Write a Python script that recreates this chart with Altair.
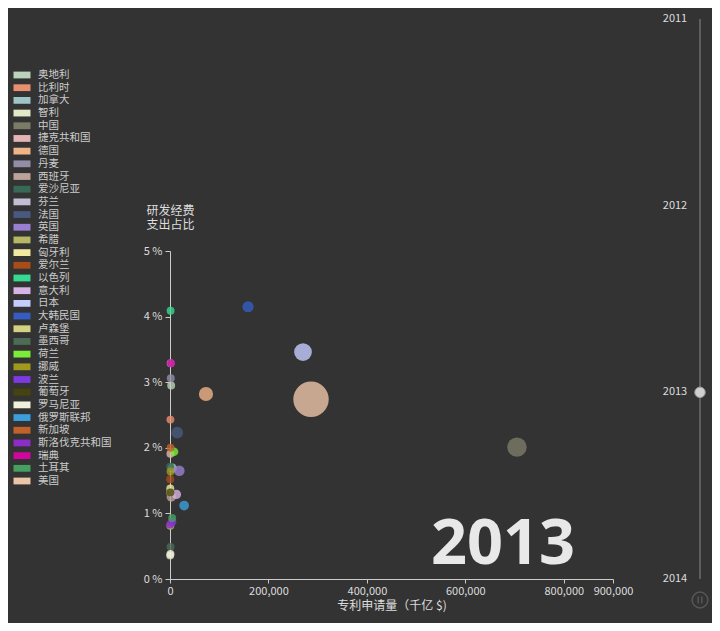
import altair as alt
import pandas as pd

# ---------------- data ----------------
countries = ["奥地利", "比利时", "加拿大", "智利", "中国", "捷克共和国", "德国", "丹麦", "西班牙",
             "爱沙尼亚", "芬兰", "法国", "英国", "希腊", "匈牙利", "爱尔兰", "以色列", "意大利",
             "日本", "大韩民国", "卢森堡", "墨西哥", "荷兰", "挪威", "波兰", "葡萄牙", "罗马尼亚",
             "俄罗斯联邦", "新加坡", "斯洛伐克共和国", "瑞典", "土耳其", "美国"]
colors = ["#bcd3bb", "#e88f70", "#9dc5c8", "#e1e8c8", "#7b7c68", "#e5b5b5", "#f0b489", "#928ea8",
          "#bda29a", "#376956", "#c3bed4", "#495a80", "#9a7fd1", "#b6b665", "#f0eaa1", "#a84c18",
          "#37d88f", "#d8b3e6", "#c5ccfe", "#355cc1", "#d4d181", "#4d6c56", "#7cec38", "#a0991e",
          "#7c3ae0", "#46440e", "#f0f0dc", "#3b9fdb", "#c0622a", "#8e2cc7", "#d0069f", "#46a05f",
          "#ecc4a8"]
# patent applications (2013)
patents = [2400, 800, 4500, 340, 704900, 900, 73100, 1600, 2600,
           60, 1400, 14700, 18900, 700, 600, 400, 1200, 13000,
           270200, 158500, 150, 1200, 8100, 1100, 4200, 700, 1000,
           28700, 1100, 200, 2200, 4500, 286500]
# R&D expenditure share of GDP (%)
rd_share = [2.95, 2.43, 1.69, 0.36, 2.01, 1.91, 2.82, 3.06, 1.25,
            1.71, 3.29, 2.23, 1.65, 0.81, 1.38, 1.52, 4.09, 1.29,
            3.46, 4.15, 1.32, 0.49, 1.94, 1.64, 0.87, 1.32, 0.38,
            1.12, 2.00, 0.83, 3.29, 0.93, 2.74]
# bubble scale value (relative)
scale_val = [5, 5, 7, 5, 30, 5, 16, 5, 7,
             5, 5, 11, 9, 5, 5, 5, 5, 7,
             25, 10, 5, 5, 6, 5, 6, 5, 5,
             7.5, 5, 5, 5, 5, 100]
years = [2011, 2012, 2013, 2014]
current_year = 2013

df = pd.DataFrame({"国家": countries, "专利申请量": patents, "研发占比": rd_share,
                   "规模": scale_val, "序号": list(range(len(countries)))})
df_years = pd.DataFrame({"年份": years})
df_cur = pd.DataFrame({"年份": [current_year], "标签": [str(current_year)]})

FONT = "Noto Sans CJK SC"
BG = "#333333"
color_scale = alt.Scale(domain=countries, range=colors)

# ---------------- main scatter ----------------
points = alt.Chart(df).mark_circle(opacity=0.8).encode(
    x=alt.X("专利申请量:Q",
            scale=alt.Scale(domain=[0, 900000], nice=False),
            axis=alt.Axis(values=[0, 200000, 400000, 600000, 800000, 900000], format=",.0f",
                          title="专利申请量（千亿 $)", titleY=21, titleBaseline="top",
                          tickSize=4, labelPadding=2, labelOverlap=False, labelFlush=False)),
    y=alt.Y("研发占比:Q",
            scale=alt.Scale(domain=[0, 5], nice=False),
            axis=alt.Axis(values=[0, 1, 2, 3, 4, 5], labelExpr="datum.value + ' %'",
                          title=["研发经费", "支出占比"], titleAngle=0, titleAlign="left",
                          titleBaseline="top", titleX=-24, titleY=-46,
                          tickSize=5, labelPadding=3, labelOverlap=False, labelFlush=False)),
    size=alt.Size("规模:Q", scale=alt.Scale(domain=[0, 100], range=[0, 1257]), legend=None),
    color=alt.Color("国家:N", scale=color_scale, legend=None),
    order=alt.Order("序号:Q"),
)

# ---------------- legend (left) ----------------
leg_y = alt.Y("序号:Q", scale=alt.Scale(domain=[0, 32], range=[-176, 230]), axis=None)
swatch = alt.Chart(df).mark_point(
    shape="M-1,-0.4H1V0.4H-1Z", filled=True, opacity=1, size=289
).encode(
    x=alt.value(-148), y=leg_y,
    color=alt.Color("国家:N", scale=color_scale, legend=None),
)
leg_text = alt.Chart(df).mark_text(
    align="left", baseline="middle", font=FONT, fontSize=10.5, color="#cccccc"
).encode(x=alt.value(-132), y=leg_y, text="国家:N")

# ---------------- timeline (right) ----------------
tl_scale = alt.Scale(domain=[2011, 2014], range=[-232, 328])
tl_line = alt.Chart(df_years).mark_rule(color="#5e5e5e", strokeWidth=2).encode(
    x=alt.value(530),
    y=alt.Y("min(年份):Q", scale=tl_scale, axis=None),
    y2="max(年份):Q",
)
tl_labels = alt.Chart(df_years).mark_text(
    align="center", baseline="middle", font=FONT, fontSize=11, color="#dddddd"
).encode(x=alt.value(505), y=alt.Y("年份:Q", scale=tl_scale, axis=None), text="年份:N")
tl_marker = alt.Chart(df_cur).mark_point(
    filled=True, color="#cfcfcf", size=110, opacity=1, stroke="#9a9a9a", strokeWidth=1
).encode(x=alt.value(530), y=alt.Y("年份:Q", scale=tl_scale, axis=None))
pause_ring = alt.Chart(df_cur).mark_point(
    shape="circle", filled=False, color="#666666", size=250, strokeWidth=1.5
).encode(x=alt.value(530), y=alt.value(349))
pause_bars = alt.Chart(df_cur).mark_point(
    shape="M-0.25,-0.5V0.5M0.25,-0.5V0.5", filled=False, color="#666666", size=200, strokeWidth=1.5
).encode(x=alt.value(530), y=alt.value(349))

# ---------------- big year ----------------
big_year = alt.Chart(df_cur).mark_text(
    align="right", baseline="alphabetic", font="Open Sans", fontSize=63,
    fontWeight="bold", color="#e8e8e8"
).encode(x=alt.value(405), y=alt.value(313), text="标签:N")

chart = alt.layer(
    big_year, points, swatch, leg_text, tl_line, tl_labels, tl_marker, pause_ring, pause_bars
).resolve_scale(
    y="independent"
).properties(
    width=443, height=328,
    autosize=alt.AutoSizeParams(type="none"),
    padding={"left": 162, "top": 243, "right": 99, "bottom": 44},
    background=BG,
).configure_view(
    stroke=None
).configure_axis(
    grid=False,
    domainColor="#cccccc", tickColor="#cccccc",
    labelColor="#dddddd", labelFont=FONT, labelFontSize=11,
    titleColor="#dddddd", titleFont=FONT, titleFontSize=12, titleFontWeight="normal",
)

chart.save("out.html", embed_options={"renderer": "svg", "actions": False})
